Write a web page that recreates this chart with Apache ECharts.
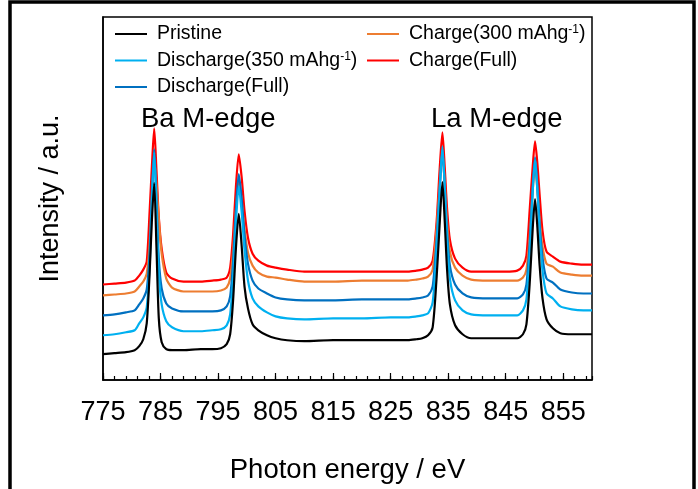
<!DOCTYPE html>
<html>
<head>
<meta charset="utf-8">
<script src="https://cdn.jsdelivr.net/npm/echarts@6/dist/echarts.min.js"></script>
<style>
html,body{margin:0;padding:0;background:#fff;}
#chart{width:698px;height:489px;}
</style>
</head>
<body>
<div id="chart"></div>
<script>
// Photon energy (eV)
const energy = [775, 777, 779, 780.5, 781.3, 782, 782.6, 783.1, 783.5, 783.9, 784.3, 784.7, 785.2, 786, 787, 789, 792, 794, 795.5, 796.5, 797.1, 797.6, 798.1, 798.6, 799.1, 799.6, 800.2, 801, 802, 803.5, 805, 807, 810, 815, 820, 825, 828, 829.5, 830.5, 831.5, 832.3, 833, 833.5, 834, 834.4, 834.8, 835.3, 836.2, 837.5, 839, 842, 845, 847, 848, 848.6, 849.2, 849.7, 850.1, 850.5, 850.9, 851.4, 852.1, 853.2, 854.5, 856.5, 858.5, 860];

// Intensity (a.u., offset curves)
const pristine = [26, 27, 28, 30, 34, 41, 57, 107, 161, 198, 132, 62, 38, 31, 30, 30, 31, 31, 32, 36, 46, 79, 132, 167, 135, 94, 72, 56, 50, 45, 42, 40, 39, 40, 40, 40, 40, 41, 42, 45, 53, 104, 155, 199, 160, 112, 76, 55, 46, 42, 42, 42, 42, 46, 56, 100, 153, 182, 154, 115, 82, 61, 52, 47, 46, 46, 46];
const discharge350 = [45, 46, 48, 50, 57, 63, 73, 114, 179, 229, 172, 108, 76, 59, 53, 49, 49, 50, 51, 55, 66, 102, 157, 195, 169, 131, 100, 82, 74, 68, 64, 62, 61, 62, 62, 63, 63, 64, 65, 67, 78, 133, 187, 235, 193, 142, 102, 80, 70, 66, 65, 65, 65, 70, 81, 130, 190, 222, 191, 148, 110, 87, 82, 74, 71, 70, 70];
const dischargeFull = [65, 66, 68, 70, 76, 82, 91, 128, 187, 232, 181, 122, 92, 77, 72, 69, 69, 69, 70, 74, 84, 118, 171, 207, 183, 146, 117, 100, 92, 87, 83, 81, 80, 80, 81, 81, 81, 82, 83, 85, 94, 142, 190, 232, 195, 150, 115, 96, 87, 83, 82, 82, 82, 86, 96, 141, 195, 224, 196, 157, 123, 102, 98, 91, 88, 87, 87];
const charge300 = [85, 86, 87, 89, 94, 99, 107, 137, 185, 222, 196, 162, 127, 102, 93, 89, 89, 89, 90, 93, 102, 129, 171, 200, 181, 152, 128, 115, 108, 104, 103, 101, 99, 99, 100, 100, 100, 101, 102, 104, 111, 153, 194, 230, 198, 159, 129, 113, 105, 101, 100, 100, 100, 103, 111, 147, 191, 215, 192, 161, 134, 117, 114, 108, 106, 105, 105];
const chargeFull = [96, 97, 98, 100, 105, 111, 119, 169, 215, 253, 210, 164, 132, 108, 102, 99, 99, 100, 101, 103, 113, 145, 194, 227, 204, 170, 143, 127, 120, 115, 113, 111, 109, 109, 109, 109, 109, 110, 111, 113, 120, 160, 210, 249, 214, 173, 141, 122, 113, 109, 109, 109, 110, 115, 125, 174, 215, 240, 218, 186, 150, 129, 124, 119, 117, 116, 116];

const seriesNames = ['Pristine', 'Discharge(350 mAhg-1)', 'Discharge(Full)', 'Charge(300 mAhg-1)', 'Charge(Full)'];
const seriesColors = ['#000000', '#00B0F0', '#0070C0', '#ED7D31', '#FF0000'];
const seriesValues = [pristine, discharge350, dischargeFull, charge300, chargeFull];

const edgeLabels = ['Ba M-edge', 'La M-edge'];

const font = 'Liberation Sans, Arial, sans-serif';

function pairs(ys) { return energy.map((x, i) => [x, ys[i]]); }

// draw order: red at back, black at front
const order = [4, 3, 2, 1, 0];
const series = order.map(i => ({
  name: seriesNames[i],
  type: 'line',
  xAxisIndex: 0,
  yAxisIndex: 0,
  data: pairs(seriesValues[i]),
  showSymbol: false,
  symbol: 'none',
  smooth: 0.25,
  lineStyle: { color: seriesColors[i], width: 2.2 },
  itemStyle: { color: seriesColors[i] },
  emphasis: { disabled: true },
  animation: false
}));

const legendCommon = {
  orient: 'vertical',
  icon: 'rect',
  itemWidth: 32,
  itemHeight: 2,
  itemGap: 6.5,
  selectedMode: false,
  padding: 0,
  textStyle: {
    color: '#000',
    fontFamily: font,
    fontSize: 19.5,
    lineHeight: 20,
    padding: [0, 0, 0, 5],
    rich: {
      n: { fontFamily: font, fontSize: 19.5, lineHeight: 20, color: '#000' },
      s: { fontFamily: font, fontSize: 12, lineHeight: 13, verticalAlign: 'top', color: '#000' }
    }
  },
  formatter: function (name) {
    if (name.indexOf('mAhg-1') >= 0) {
      const parts = name.split('mAhg-1');
      return '{n|' + parts[0] + 'mAhg}{s|-1}{n|' + parts[1] + '}';
    }
    return '{n|' + name + '}';
  }
};

const chart = echarts.init(document.getElementById('chart'), null, { renderer: 'canvas' });
chart.setOption({
  animation: false,
  backgroundColor: '#fff',
  grid: {
    left: 103, top: 17, width: 489, height: 365,
    show: true, borderColor: '#000', borderWidth: 1.5, backgroundColor: 'transparent',
    containLabel: false
  },
  legend: [
    Object.assign({}, legendCommon, { left: 115, top: 24, data: [seriesNames[0], seriesNames[1], seriesNames[2]] }),
    Object.assign({}, legendCommon, { left: 367, top: 24, data: [seriesNames[3], seriesNames[4]] })
  ],
  xAxis: [
    {
      type: 'value', min: 775, max: 860, interval: 10,
      position: 'bottom',
      name: 'Photon energy / eV', nameLocation: 'middle', nameGap: 76,
      nameTextStyle: { fontFamily: font, fontSize: 27.5, color: '#000' },
      axisLine: { show: true, onZero: false, lineStyle: { color: '#000', width: 1.5 } },
      axisTick: { show: true, inside: true, length: 7, lineStyle: { color: '#000', width: 1.2 } },
      axisLabel: { show: true, margin: 19, fontFamily: font, fontSize: 27, color: '#000', showMaxLabel: false },
      splitLine: { show: false }
    },
    {
      type: 'value', min: 775, max: 860, interval: 2,
      position: 'bottom',
      axisLine: { show: false },
      axisTick: { show: true, inside: true, length: 4, lineStyle: { color: '#000', width: 1.2 } },
      axisLabel: { show: false },
      splitLine: { show: false }
    }
  ],
  yAxis: {
    type: 'value', min: 0, max: 365,
    name: 'Intensity / a.u.', nameLocation: 'middle', nameGap: 39,
    nameTextStyle: { fontFamily: font, fontSize: 27, color: '#000' },
    axisLine: { show: true, lineStyle: { color: '#000', width: 1.5 } },
    axisTick: { show: false },
    axisLabel: { show: false },
    splitLine: { show: false }
  },
  graphic: [
    {
      type: 'rect', silent: true, z: 100,
      shape: { x: 10, y: 2, width: 684, height: 600 },
      style: { fill: 'none', stroke: '#000', lineWidth: 3.5 }
    },
    {
      type: 'text', left: 141, top: 105, silent: true,
      style: { text: edgeLabels[0], fontFamily: font, fontSize: 27.5, fill: '#000' }
    },
    {
      type: 'text', left: 431, top: 105, silent: true,
      style: { text: edgeLabels[1], fontFamily: font, fontSize: 27.5, fill: '#000' }
    }
  ],
  series: series
});
</script>
</body>
</html>
